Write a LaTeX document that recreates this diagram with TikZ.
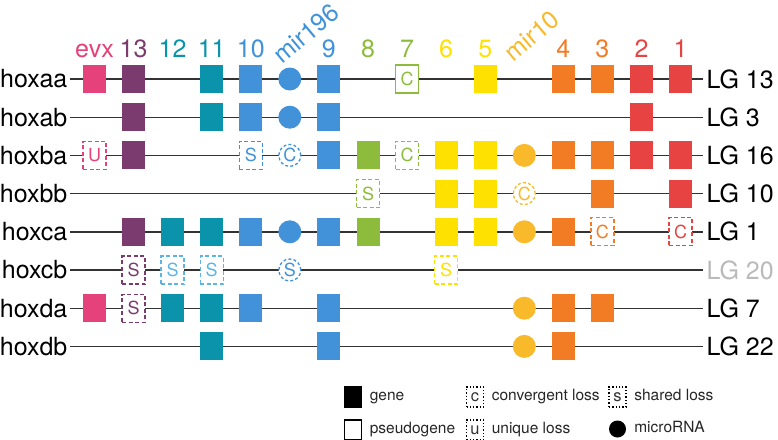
\documentclass[tikz,border=0pt]{standalone}
\usepackage{fontspec}
\setmainfont{TeX Gyre Heros}
\usetikzlibrary{positioning}

\definecolor{evxcol}{HTML}{E5417A}
\definecolor{plumcol}{HTML}{7B3B6F}
\definecolor{tealcol}{HTML}{0A93AA}
\definecolor{ltealcol}{HTML}{5BB6E3}
\definecolor{bluecol}{HTML}{4192D9}
\definecolor{greencol}{HTML}{8DBC3D}
\definecolor{yellowcol}{HTML}{FFE100}
\definecolor{ambercol}{HTML}{F8BA2B}
\definecolor{orangecol}{HTML}{F27C24}
\definecolor{redcol}{HTML}{E84343}
\definecolor{linecol}{HTML}{333333}

\begin{document}
\begin{tikzpicture}[
    x=1pt, y=-1pt,
    font=\fontsize{25}{30}\selectfont,
    line width=1.3pt,
    rowname/.style={anchor=east, inner xsep=2pt, inner ysep=0pt},
    lgname/.style={anchor=west, inner xsep=3pt, inner ysep=0pt},
    rowline/.style={draw=linecol, line width=1.4pt},
    collab/.style={anchor=base, inner sep=0pt, text=#1},
    gene/.style={fill=#1, minimum width=23pt, minimum height=28pt, inner sep=0pt},
    pseudo/.style={draw=#1, fill=white, text=#1, minimum width=23pt, minimum height=28pt, inner sep=0pt, font=\fontsize{18}{18}\selectfont},
    loss/.style={pseudo=#1, dash pattern=on 4pt off 2.5pt},
    mirna/.style={circle, fill=#1, minimum size=23pt, inner sep=0pt},
    mirloss/.style={circle, draw=#1, fill=white, text=#1, minimum size=22pt, inner sep=0pt, dash pattern=on 3pt off 2.2pt, font=\fontsize{18}{18}\selectfont},
    legbox/.style={draw=black, minimum width=17pt, minimum height=20pt, inner sep=0pt, font=\fontsize{16.5}{16.5}\selectfont, text=black!80},
    legtext/.style={anchor=west, inner sep=0pt, text height=1.5ex, text depth=0.3ex, font=\fontsize{15.5}{18}\selectfont, text=black!85}
]
\useasboundingbox (0,0) rectangle (778,439);

% columns
\coordinate (cevx) at (94.5,57);
\coordinate (c13) at (133.6,57);
\coordinate (c12) at (172.6,57);
\coordinate (c11) at (211.7,57);
\coordinate (c10) at (250.8,57);
\coordinate (cmir196) at (289.8,57);
\coordinate (c9) at (328.9,57);
\coordinate (c8) at (368.0,57);
\coordinate (c7) at (407.0,57);
\coordinate (c6) at (446.1,57);
\coordinate (c5) at (485.2,57);
\coordinate (cmir10) at (524.3,57);
\coordinate (c4) at (563.4,57);
\coordinate (c3) at (602.4,57);
\coordinate (c2) at (641.5,57);
\coordinate (c1) at (680.6,57);

\node[collab=evxcol] (tevx) at (cevx) {evx};
\node[collab=plumcol] (t13) at (c13) {13};
\node[collab=tealcol] (t12) at (c12) {12};
\node[collab=tealcol] (t11) at (c11) {11};
\node[collab=bluecol] (t10) at (c10) {10};
\node[collab=bluecol, rotate=40, anchor=base west] (tmir196) at (282,65) {mir196};
\node[collab=bluecol] (t9) at (c9) {9};
\node[collab=greencol] (t8) at (c8) {8};
\node[collab=greencol] (t7) at (c7) {7};
\node[collab=yellowcol] (t6) at (c6) {6};
\node[collab=yellowcol] (t5) at (c5) {5};
\node[collab=ambercol, rotate=40, anchor=base west] (tmir10) at (513,63) {mir10};
\node[collab=orangecol] (t4) at (c4) {4};
\node[collab=orangecol] (t3) at (c3) {3};
\node[collab=redcol] (t2) at (c2) {2};
\node[collab=redcol] (t1) at (c1) {1};

% clusters
\node[rowname] (hoxaa) at (70,79) {hoxaa};
\node[rowname] (hoxab) at (70,117.2) {hoxab};
\node[rowname] (hoxba) at (70,155.4) {hoxba};
\node[rowname] (hoxbb) at (70,193.6) {hoxbb};
\node[rowname] (hoxca) at (70,231.8) {hoxca};
\node[rowname] (hoxcb) at (70,270) {hoxcb};
\node[rowname] (hoxda) at (70,308.2) {hoxda};
\node[rowname] (hoxdb) at (70,346.4) {hoxdb};

\node[lgname] (lg13) at (703,79) {LG 13};
\node[lgname] (lg3) at (703,117.2) {LG 3};
\node[lgname] (lg16) at (703,155.4) {LG 16};
\node[lgname] (lg10) at (703,193.6) {LG 10};
\node[lgname] (lg1) at (703,231.8) {LG 1};
\node[lgname, text=black!27] (lg20) at (703,270) {LG 20};
\node[lgname] (lg7) at (703,308.2) {LG 7};
\node[lgname] (lg22) at (703,346.4) {LG 22};

\draw[rowline] (hoxaa.east) -- (lg13.west);
\draw[rowline] (hoxab.east) -- (lg3.west);
\draw[rowline] (hoxba.east) -- (lg16.west);
\draw[rowline] (hoxbb.east) -- (lg10.west);
\draw[rowline] (hoxca.east) -- (lg1.west);
\draw[rowline] (hoxcb.east) -- (lg20.west);
\draw[rowline] (hoxda.east) -- (lg7.west);
\draw[rowline] (hoxdb.east) -- (lg22.west);

% hoxaa
\node[gene=evxcol] (aaevx) at (cevx |- hoxaa) {};
\node[gene=plumcol] (aa13) at (c13 |- hoxaa) {};
\node[gene=tealcol] (aa11) at (c11 |- hoxaa) {};
\node[gene=bluecol] (aa10) at (c10 |- hoxaa) {};
\node[mirna=bluecol] (aamir196) at (cmir196 |- hoxaa) {};
\node[gene=bluecol] (aa9) at (c9 |- hoxaa) {};
\node[pseudo=greencol] (aa7) at (c7 |- hoxaa) {C};
\node[gene=yellowcol] (aa5) at (c5 |- hoxaa) {};
\node[gene=orangecol] (aa4) at (c4 |- hoxaa) {};
\node[gene=orangecol] (aa3) at (c3 |- hoxaa) {};
\node[gene=redcol] (aa2) at (c2 |- hoxaa) {};
\node[gene=redcol] (aa1) at (c1 |- hoxaa) {};

% hoxab
\node[gene=plumcol] (ab13) at (c13 |- hoxab) {};
\node[gene=tealcol] (ab11) at (c11 |- hoxab) {};
\node[gene=bluecol] (ab10) at (c10 |- hoxab) {};
\node[mirna=bluecol] (abmir196) at (cmir196 |- hoxab) {};
\node[gene=bluecol] (ab9) at (c9 |- hoxab) {};
\node[gene=redcol] (ab2) at (c2 |- hoxab) {};

% hoxba
\node[loss=evxcol] (baevx) at (cevx |- hoxba) {U};
\node[gene=plumcol] (ba13) at (c13 |- hoxba) {};
\node[loss=bluecol] (ba10) at (c10 |- hoxba) {S};
\node[mirloss=bluecol] (bamir196) at (cmir196 |- hoxba) {C};
\node[gene=bluecol] (ba9) at (c9 |- hoxba) {};
\node[gene=greencol] (ba8) at (c8 |- hoxba) {};
\node[loss=greencol] (ba7) at (c7 |- hoxba) {C};
\node[gene=yellowcol] (ba6) at (c6 |- hoxba) {};
\node[gene=yellowcol] (ba5) at (c5 |- hoxba) {};
\node[mirna=ambercol] (bamir10) at (cmir10 |- hoxba) {};
\node[gene=orangecol] (ba4) at (c4 |- hoxba) {};
\node[gene=orangecol] (ba3) at (c3 |- hoxba) {};
\node[gene=redcol] (ba2) at (c2 |- hoxba) {};
\node[gene=redcol] (ba1) at (c1 |- hoxba) {};

% hoxbb
\node[loss=greencol] (bb8) at (c8 |- hoxbb) {S};
\node[gene=yellowcol] (bb6) at (c6 |- hoxbb) {};
\node[gene=yellowcol] (bb5) at (c5 |- hoxbb) {};
\node[mirloss=ambercol] (bbmir10) at (cmir10 |- hoxbb) {C};
\node[gene=orangecol] (bb3) at (c3 |- hoxbb) {};
\node[gene=redcol] (bb1) at (c1 |- hoxbb) {};

% hoxca
\node[gene=plumcol] (ca13) at (c13 |- hoxca) {};
\node[gene=tealcol] (ca12) at (c12 |- hoxca) {};
\node[gene=tealcol] (ca11) at (c11 |- hoxca) {};
\node[gene=bluecol] (ca10) at (c10 |- hoxca) {};
\node[mirna=bluecol] (camir196) at (cmir196 |- hoxca) {};
\node[gene=bluecol] (ca9) at (c9 |- hoxca) {};
\node[gene=greencol] (ca8) at (c8 |- hoxca) {};
\node[gene=yellowcol] (ca6) at (c6 |- hoxca) {};
\node[gene=yellowcol] (ca5) at (c5 |- hoxca) {};
\node[mirna=ambercol] (camir10) at (cmir10 |- hoxca) {};
\node[gene=orangecol] (ca4) at (c4 |- hoxca) {};
\node[loss=orangecol] (ca3) at (c3 |- hoxca) {C};
\node[loss=redcol] (ca1) at (c1 |- hoxca) {C};

% hoxcb
\node[loss=plumcol] (cb13) at (c13 |- hoxcb) {S};
\node[loss=ltealcol] (cb12) at (c12 |- hoxcb) {S};
\node[loss=ltealcol] (cb11) at (c11 |- hoxcb) {S};
\node[mirloss=bluecol] (cbmir196) at (cmir196 |- hoxcb) {S};
\node[loss=yellowcol] (cb6) at (c6 |- hoxcb) {S};

% hoxda
\node[gene=evxcol] (daevx) at (cevx |- hoxda) {};
\node[loss=plumcol] (da13) at (c13 |- hoxda) {S};
\node[gene=tealcol] (da12) at (c12 |- hoxda) {};
\node[gene=tealcol] (da11) at (c11 |- hoxda) {};
\node[gene=bluecol] (da10) at (c10 |- hoxda) {};
\node[gene=bluecol] (da9) at (c9 |- hoxda) {};
\node[mirna=ambercol] (damir10) at (cmir10 |- hoxda) {};
\node[gene=orangecol] (da4) at (c4 |- hoxda) {};
\node[gene=orangecol] (da3) at (c3 |- hoxda) {};

% hoxdb
\node[gene=tealcol] (db11) at (c11 |- hoxdb) {};
\node[gene=bluecol] (db9) at (c9 |- hoxdb) {};
\node[mirna=ambercol] (dbmir10) at (cmir10 |- hoxdb) {};
\node[gene=orangecol] (db4) at (c4 |- hoxdb) {};

% legend
\node[legbox, fill=black] (lgene) at (353,397) {};
\node[legtext, right=7pt of lgene] (tgene) {gene};
\node[legbox] (lpseudo) at (353,430) {};
\node[legtext, right=7pt of lpseudo] (tpseudo) {pseudogene};
\node[legbox, dotted] (lconv) at (475,397) {c};
\node[legtext, right=7pt of lconv] (tconv) {convergent loss};
\node[legbox, dotted] (lunique) at (475,430) {u};
\node[legtext, right=7pt of lunique] (tunique) {unique loss};
\node[legbox, dotted] (lshared) at (617.5,397) {s};
\node[legtext, right=7pt of lshared] (tshared) {shared loss};
\node[circle, fill=black, minimum size=17pt, inner sep=0pt] (lmir) at (617.5,429) {};
\node[legtext, right=7pt of lmir] (tmir) {microRNA};
\end{tikzpicture}
\end{document}
